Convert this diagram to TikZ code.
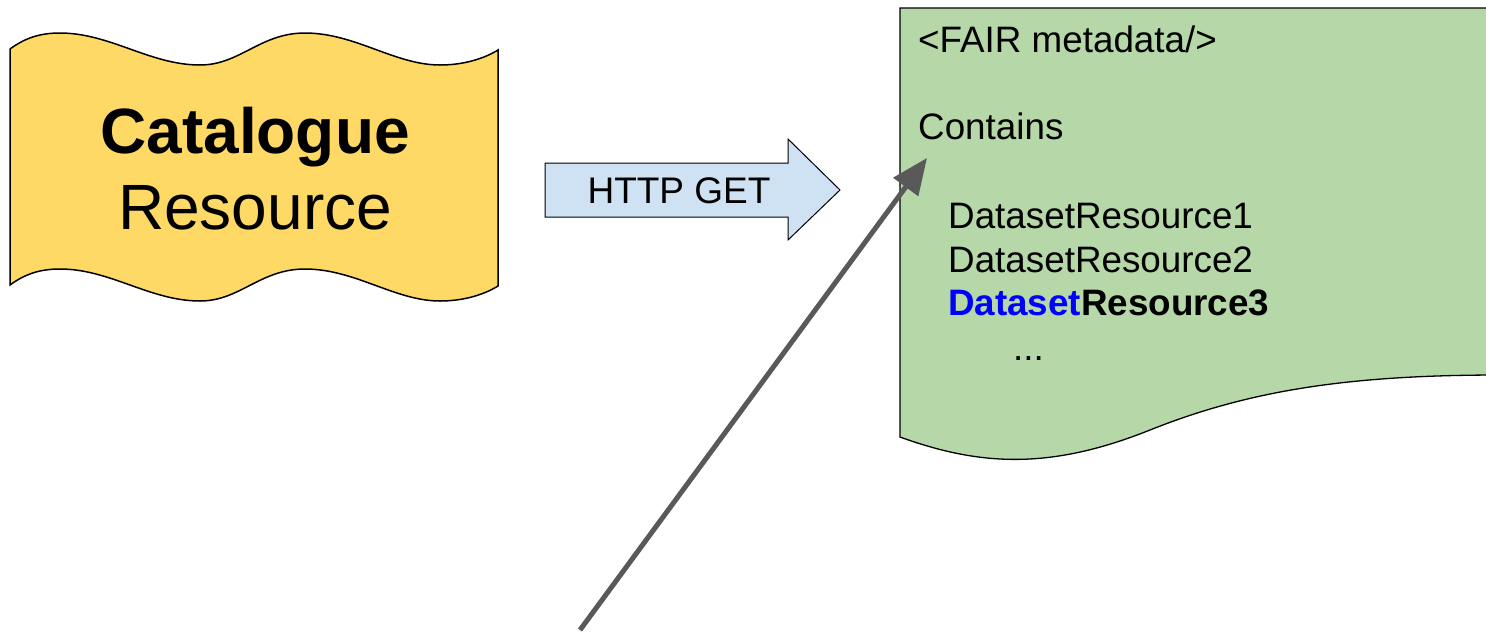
\documentclass[tikz,border=0pt]{standalone}
\usepackage{fontspec}
\setmainfont{Liberation Sans}
\usetikzlibrary{arrows.meta}
\definecolor{flagyellow}{HTML}{FFD966}
\definecolor{docgreen}{HTML}{B6D7A8}
\definecolor{getblue}{HTML}{CFE2F3}
\definecolor{pointergray}{HTML}{595959}
\tikzset{
  bigtext/.style={font=\fontsize{64}{76}\selectfont, inner sep=0pt, anchor=base},
  doctext/.style={font=\fontsize{36.8}{44}\selectfont, inner sep=0pt, anchor=base west},
}

\begin{document}
\begin{tikzpicture}[x=1pt,y=-1pt]
		%%%%% START %%%%%
		\useasboundingbox (0,0) rectangle (1486,633);
		\clip (0,0) rectangle (1486,633);
		
		% wavy catalogue flag
		\draw[fill=flagyellow, line width=1.5pt] (10,49)
			.. controls (25,38) and (40,33) .. (60,33)
			.. controls (110,33) and (150,65) .. (200,65)
			.. controls (240,65) and (260,33) .. (305,33)
			.. controls (355,33) and (395,65) .. (440,65)
			.. controls (465,65) and (485,58) .. (498,50)
			-- (498,286)
			.. controls (485,294) and (465,301) .. (440,301)
			.. controls (395,301) and (355,269) .. (305,269)
			.. controls (260,269) and (240,301) .. (200,301)
			.. controls (150,301) and (110,269) .. (60,269)
			.. controls (40,269) and (25,274) .. (10,285)
			-- cycle;
		\node[bigtext] (cattitle) at (255,153) {\bfseries Catalogue};
		\node[bigtext] (catsub) at (255,229) {Resource};
		
		% request arrow
		\draw[fill=getblue, line width=1pt] (545,163) -- (788,163) -- (788,139) -- (840,190)
			-- (788,240) -- (788,217) -- (545,217) -- cycle;
		\node[font=\fontsize{37}{44}\selectfont, inner sep=0pt] (httpget) at (679,191) {HTTP GET};
		
		% metadata document
		\draw[fill=docgreen, line width=1.3pt] (900,8) -- (1500,8) -- (1500,375)
			.. controls (1350,375) and (1250,390) .. (1150,430)
			.. controls (1050,470) and (980,466) .. (900,437) -- cycle;
		\node[doctext] (fair) at (918,52) {<FAIR metadata/>};
		\node[doctext] (contains) at (918,139) {Contains};
		\node[doctext] (dsone) at (948,228) {DatasetResource1};
		\node[doctext] (dstwo) at (948,272) {DatasetResource2};
		\node[doctext] (dsthree) at (948,315) {\bfseries\textcolor{blue}{Dataset}Resource3};
		\node[doctext] (dots) at (1013,360) {...};
		
		% pointer into the list
		\coordinate (pointertail) at (580,630);
		\coordinate (pointertip) at (927,158);
		\draw[pointergray, line width=5pt, -{Triangle[length=36pt,width=30pt]}] (pointertail) -- (pointertip);
		
		%%%%% END %%%%%
	\end{tikzpicture}
\end{document}
